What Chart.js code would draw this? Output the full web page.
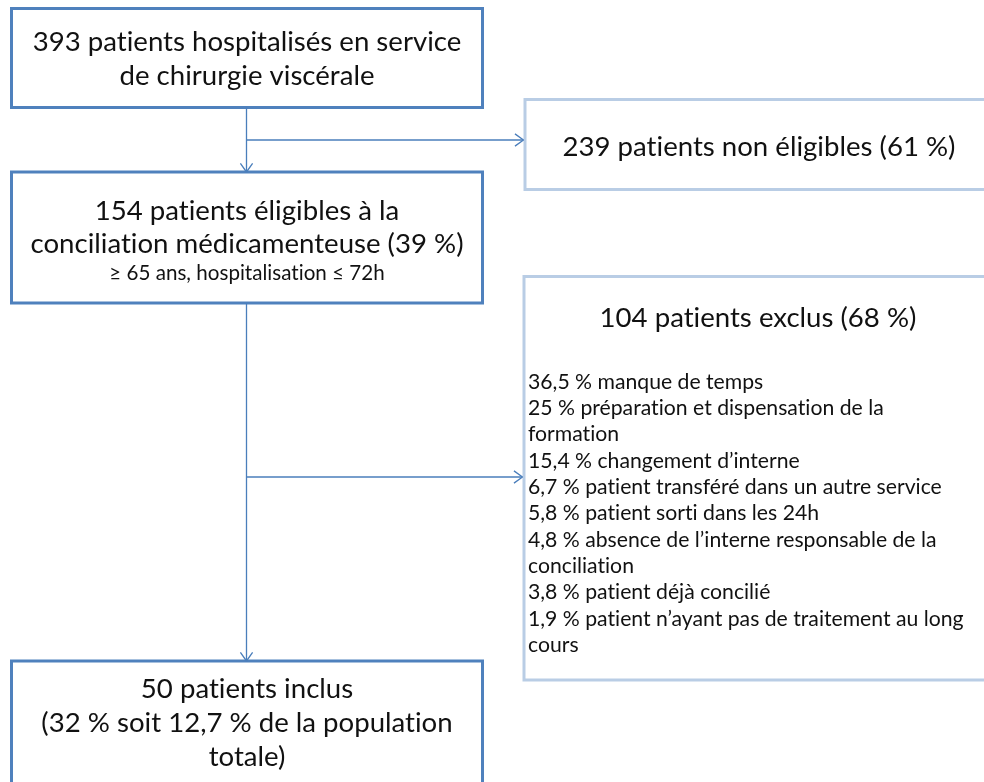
<!DOCTYPE html>
<html>
<head>
<meta charset="utf-8">
<script src="https://cdn.jsdelivr.net/npm/chart.js@4.4.1/dist/chart.umd.min.js"></script>
<style>
html, body { margin: 0; padding: 0; background: #fff; }
#wrap { width: 984px; height: 782px; }
</style>
</head>
<body>
<div id="wrap"><canvas id="flowChart"></canvas></div>
<script>
// Patient flow counts
let totalPatients = 393;
let nonEligible = [239, 61];      // patients, %
let eligible = [154, 39];         // patients, %
let excluded = [104, 68];         // patients, %
let included = [50, 32, 12.7];    // patients, % of eligible, % of total

// Exclusion reasons (% of excluded)
let reasonValues = [36.5, 25, 15.4, 6.7, 5.8, 4.8, 3.8, 1.9];
let reasonLabels = [
  ["manque de temps"],
  ["préparation et dispensation de la", "formation"],
  ["changement d’interne"],
  ["patient transféré dans un autre service"],
  ["patient sorti dans les 24h"],
  ["absence de l’interne responsable de la", "conciliation"],
  ["patient déjà concilié"],
  ["patient n’ayant pas de traitement au long", "cours"]
];

const pct = v => String(v).replace('.', ',') + ' %';

const DARK = "#4F81BD";
const LIGHT = "#B9CDE5";
const LINK = "#4A7EBB";
const FONT = "Lato, 'Open Sans', sans-serif";

// box layout, in chart units (x 0..984, y 0..782 from the top)
const boxes = {
  admitted: { x0: 11.5, x1: 482.5, y0: 8.5, y1: 107.5, color: DARK },
  nonElig:  { x0: 525, x1: 993, y0: 99.5, y1: 189.5, color: LIGHT },
  elig:     { x0: 11.5, x1: 482.5, y0: 172, y1: 303, color: DARK },
  excl:     { x0: 524, x1: 993, y0: 276.5, y1: 680, color: LIGHT },
  incl:     { x0: 11.5, x1: 482.5, y0: 661, y1: 800, color: DARK }
};
const trunkX = 246.5;

// connectors run from box edges
const links = [
  [{ x: trunkX, y: boxes.admitted.y1 }, { x: trunkX, y: boxes.elig.y0 }],
  [{ x: trunkX, y: 140 }, { x: boxes.nonElig.x0 - 1.5, y: 140 }],
  [{ x: trunkX, y: boxes.elig.y1 }, { x: trunkX, y: boxes.incl.y0 }],
  [{ x: trunkX, y: 477 }, { x: boxes.excl.x0 - 1.5, y: 477 }]
];

// text blocks
const big = 27.6, mid = 21.2, small = 20.6;
const cx = b => (b.x0 + b.x1) / 2;
const texts = [
  { x: cx(boxes.admitted), y: 42, size: big, t: totalPatients + " patients hospitalisés en service" },
  { x: cx(boxes.admitted), y: 76, size: big, t: "de chirurgie viscérale" },
  { x: 759, y: 147, size: big, t: nonEligible[0] + " patients non éligibles (" + pct(nonEligible[1]) + ")" },
  { x: cx(boxes.elig), y: 211, size: big, t: eligible[0] + " patients éligibles à la" },
  { x: cx(boxes.elig), y: 244, size: big, t: "conciliation médicamenteuse (" + pct(eligible[1]) + ")" },
  { x: cx(boxes.elig), y: 273, size: small, t: "≥ 65 ans, hospitalisation ≤ 72h" },
  { x: 758, y: 318, size: big, t: excluded[0] + " patients exclus (" + pct(excluded[1]) + ")" },
  { x: cx(boxes.incl), y: 689, size: big, t: included[0] + " patients inclus" },
  { x: cx(boxes.incl), y: 723, size: big, t: "(" + pct(included[1]) + " soit " + pct(included[2]) + " de la population" },
  { x: cx(boxes.incl), y: 757, size: big, t: "totale)" }
];
let lineY = 382;
reasonValues.forEach((v, i) => {
  reasonLabels[i].forEach((l, j) => {
    texts.push({ x: 528, y: lineY, size: mid, align: "left", t: (j === 0 ? pct(v) + " " : "") + l });
    lineY += 26.3;
  });
});

const flowPlugin = {
  id: "flow",
  beforeDatasetsDraw(chart) {
    const { ctx, scales: { x, y } } = chart;
    Object.values(boxes).forEach(b => {
      const px0 = x.getPixelForValue(b.x0), px1 = x.getPixelForValue(b.x1);
      const py0 = y.getPixelForValue(b.y0), py1 = y.getPixelForValue(b.y1);
      ctx.save();
      ctx.fillStyle = "#fff";
      ctx.fillRect(px0, py0, px1 - px0, py1 - py0);
      ctx.strokeStyle = b.color;
      ctx.lineWidth = 3;
      ctx.strokeRect(px0, py0, px1 - px0, py1 - py0);
      ctx.restore();
    });
  },
  afterDatasetsDraw(chart) {
    const { ctx, scales: { x, y } } = chart;
    // open arrow heads at link ends
    links.forEach(l => {
      const a = l[0], b = l[1];
      const ex = x.getPixelForValue(b.x), ey = y.getPixelForValue(b.y);
      const ang = Math.atan2(ey - y.getPixelForValue(a.y), ex - x.getPixelForValue(a.x));
      ctx.save();
      ctx.strokeStyle = LINK;
      ctx.lineWidth = 1.3;
      ctx.beginPath();
      [-1, 1].forEach(s => {
        ctx.moveTo(ex - 10.5 * Math.cos(ang + s * 0.62), ey - 10.5 * Math.sin(ang + s * 0.62));
        ctx.lineTo(ex, ey);
      });
      ctx.stroke();
      ctx.restore();
    });
    ctx.save();
    ctx.fillStyle = "#111";
    ctx.textBaseline = "middle";
    ctx.textRendering = "optimizeSpeed"; // no "ti" ligature
    texts.forEach(t => {
      ctx.font = t.size + "px " + FONT;
      ctx.textAlign = t.align || "center";
      ctx.fillText(t.t, x.getPixelForValue(t.x), y.getPixelForValue(t.y));
    });
    ctx.restore();
  }
};

const flowChart = new Chart(
document.getElementById("flowChart"),
{
type: "scatter",
data: {
datasets: links.map(l => ({
data: l,
showLine: true,
borderColor: LINK,
borderWidth: 1.3,
pointRadius: 0,
clip: false
}))
},
options: {
responsive: true,
maintainAspectRatio: false,
animation: false,
layout: { padding: 0 },
plugins: { legend: { display: false }, tooltip: { enabled: false } },
scales: {
x: { type: "linear", min: 0, max: 984, display: false },
y: { type: "linear", min: 0, max: 782, reverse: true, display: false }
}
},
plugins: [flowPlugin]
});
</script>
</body>
</html>
